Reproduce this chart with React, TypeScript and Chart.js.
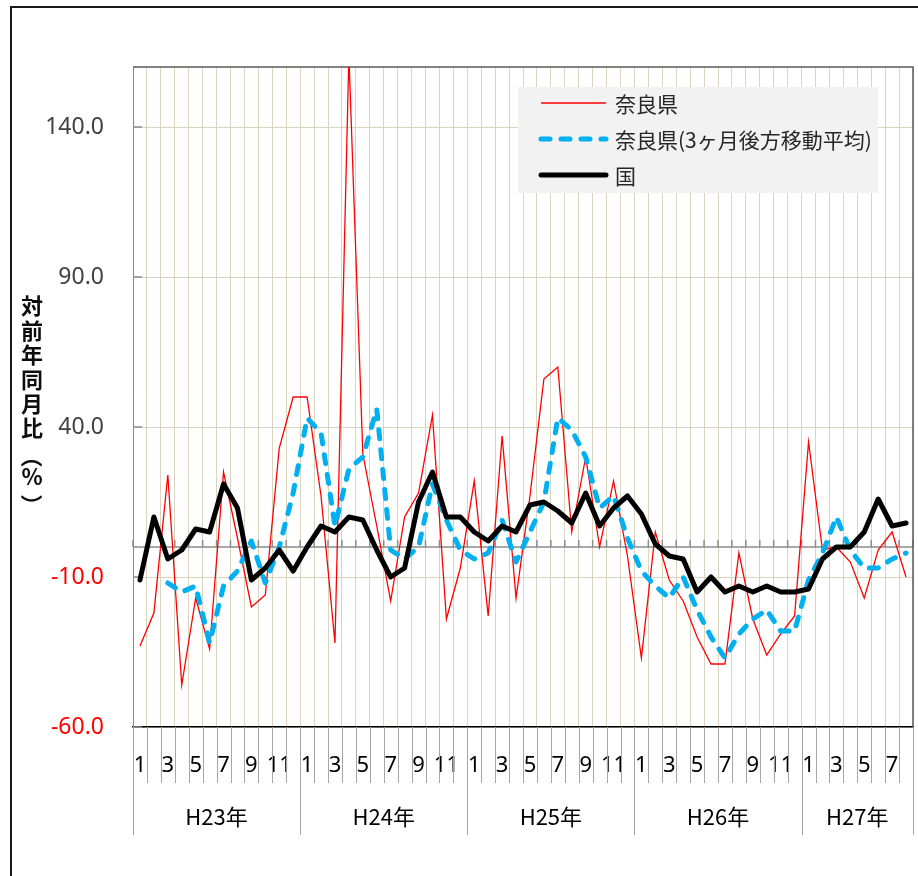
import React, { useEffect, useRef } from 'react';
import { Chart, registerables } from 'chart.js';

Chart.register(...registerables);

// ---- data ----
const YEAR_LABELS = ['H23年', 'H24年', 'H25年', 'H26年', 'H27年'];
const MONTHS_PER_YEAR = [12, 12, 12, 12, 8];
const Y_TICKS = [-60, -10, 40, 90, 140];
const Y_MIN = -60;
const Y_MAX = 160;
const SERIES_NAMES = ['奈良県', '奈良県(3ヶ月後方移動平均)', '国'];
const Y_TITLE = '対前年同月比（%）';

const NARA = [
  -33, -22, 24, -46, -17, -34, 25, 3, -20, -16, 33, 50,
  50, 17, -32, 164, 31, 7, -18, 10, 18, 44, -24, -7,
  22, -23, 37, -17, 17, 56, 60, 5, 30, 0, 22, -3,
  -37, 5, -11, -18, -30, -39, -39, -2, -24, -36, -29, -23,
  35, -1, 0, -5, -17, -1, 5, -10,
];
const NARA_MA = [
  null, null, -12, -15, -13, -32, -13, -8, 2, -12, 0, 18,
  43, 38, 7, 26, 30, 46, -1, -4, 0, 21, 9, -1,
  -4, -2, 9, -5, 5, 15, 43, 39, 30, 13, 17, 3,
  -8, -13, -17, -10, -21, -30, -37, -29, -24, -21, -28, -28,
  -11, -2, 10, -1, -7, -7, -4, -2,
];
const KUNI = [
  -11, 10, -4, -1, 6, 5, 21, 13, -11, -7, -1, -8,
  0, 7, 5, 10, 9, -1, -10, -7, 15, 25, 10, 10,
  5, 2, 7, 5, 14, 15, 12, 8, 18, 7, 13, 17,
  11, 1, -3, -4, -15, -10, -15, -13, -15, -13, -15, -15,
  -14, -4, 0, 0, 5, 16, 7, 8,
];

const MONTH_NUMBERS: number[] = MONTHS_PER_YEAR.flatMap((n) => Array.from({ length: n }, (_, m) => m + 1));
const CATEGORIES: string[] = YEAR_LABELS.flatMap((y, gi) =>
  Array.from({ length: MONTHS_PER_YEAR[gi] }, (_, m) => `${y}${m + 1}月`)
);

const TAN = '#d9d4bd';
const CJK = '"Noto Sans CJK JP", "Noto Sans", sans-serif';
const LATIN = '"Noto Sans", "DejaVu Sans", sans-serif';

const decor = {
  id: 'decor',
  beforeDraw(chart: any) {
    const ctx = chart.ctx;
    ctx.save();
    ctx.fillStyle = '#ffffff';
    ctx.fillRect(0, 0, chart.width, chart.height);
    ctx.strokeStyle = '#1a1a1a';
    ctx.lineWidth = 2;
    ctx.beginPath();
    ctx.moveTo(11, chart.height);
    ctx.lineTo(11, 7);
    ctx.lineTo(chart.width, 7);
    ctx.stroke();
    ctx.restore();
  },
  beforeDatasetsDraw(chart: any) {
    const { ctx, chartArea: a, scales } = chart;
    const n = CATEGORIES.length;
    const w = (a.right - a.left) / n;
    const y0 = scales.y.getPixelForValue(0);
    ctx.save();
    // zero line with tick marks
    ctx.strokeStyle = '#8c8c8c';
    ctx.lineWidth = 1.5;
    ctx.beginPath();
    ctx.moveTo(a.left, y0);
    ctx.lineTo(a.right, y0);
    for (let k = 0; k <= n; k++) {
      const x = a.left + k * w;
      ctx.moveTo(x, y0);
      ctx.lineTo(x, y0 - 7);
    }
    ctx.stroke();
    // inward y ticks
    ctx.beginPath();
    for (const v of Y_TICKS) {
      const y = scales.y.getPixelForValue(v);
      ctx.moveTo(a.left, y);
      ctx.lineTo(a.left + 9, y);
    }
    ctx.stroke();
    // top and right border
    ctx.strokeStyle = '#595959';
    ctx.lineWidth = 1.5;
    ctx.beginPath();
    ctx.moveTo(a.left, a.top);
    ctx.lineTo(a.right, a.top);
    ctx.lineTo(a.right, a.bottom);
    ctx.stroke();
    ctx.restore();
  },
  afterDraw(chart: any) {
    const { ctx, chartArea: a } = chart;
    const n = CATEGORIES.length;
    const w = (a.right - a.left) / n;
    ctx.save();
    // category separators below axis
    ctx.strokeStyle = '#a6a6a6';
    ctx.lineWidth = 1;
    const boundaries: number[] = [0];
    let acc = 0;
    MONTHS_PER_YEAR.forEach((c) => {
      acc += c;
      boundaries.push(acc);
    });
    ctx.beginPath();
    for (let k = 0; k <= n; k++) {
      const x = Math.round(a.left + k * w) + 0.5;
      const long = boundaries.includes(k);
      ctx.moveTo(x, a.bottom);
      ctx.lineTo(x, long ? a.bottom + 108 : a.bottom + 56);
    }
    ctx.stroke();
    // year labels
    ctx.fillStyle = '#000000';
    ctx.font = `22px ${CJK}`;
    ctx.textAlign = 'center';
    ctx.textBaseline = 'middle';
    YEAR_LABELS.forEach((lab, i) => {
      const x = a.left + ((boundaries[i] + boundaries[i + 1]) / 2) * w;
      ctx.fillText(lab, x, a.bottom + 90);
    });

    // legend
    const lx = 518, ly = 87, lw = 360, lh = 106;
    ctx.fillStyle = '#f2f2f2';
    ctx.fillRect(lx, ly, lw, lh);
    const rows = [103, 139, 175];
    chart.data.datasets.forEach((ds: any, i: number) => {
      const y = rows[i];
      ctx.save();
      ctx.strokeStyle = ds.borderColor;
      ctx.lineWidth = ds.borderWidth;
      ctx.lineCap = ds.borderCapStyle || 'butt';
      ctx.setLineDash(ds.borderDash || []);
      ctx.beginPath();
      ctx.moveTo(541, y);
      ctx.lineTo(606, y);
      ctx.stroke();
      ctx.restore();
      ctx.fillStyle = '#262626';
      ctx.font = `21px ${CJK}`;
      ctx.textAlign = 'left';
      ctx.textBaseline = 'middle';
      ctx.fillText(ds.label, 615, y + 1);
    });

    // vertical y-axis title
    ctx.fillStyle = '#0d0d0d';
    ctx.font = `bold 22px ${CJK}`;
    ctx.textAlign = 'center';
    ctx.textBaseline = 'middle';
    const chars = Array.from(Y_TITLE);
    let cy = 306;
    chars.forEach((ch) => {
      const isParen = ch === '（' || ch === '）';
      if (isParen) {
        ctx.save();
        ctx.translate(32, cy + 4);
        ctx.rotate(Math.PI / 2);
        ctx.fillText(ch, 0, 0);
        ctx.restore();
      } else {
        ctx.fillText(ch, 32, cy);
      }
      cy += 24.4;
    });
    ctx.restore();
  },
};

export default function App() {
  const ref = useRef<HTMLCanvasElement | null>(null);

  useEffect(() => {
    if (!ref.current) return;
    const chart = new Chart(ref.current, {
      type: 'line',
      data: {
        labels: CATEGORIES,
        datasets: [
          {
            label: SERIES_NAMES[0],
            data: NARA,
            borderColor: '#ff0000',
            borderWidth: 1.3,
            pointRadius: 0,
            tension: 0,
            order: 3,
          },
          {
            label: SERIES_NAMES[1],
            data: NARA_MA as any,
            borderColor: '#00b0f0',
            borderWidth: 5,
            borderDash: [9, 11],
            borderCapStyle: 'round',
            borderJoinStyle: 'round',
            pointRadius: 0,
            tension: 0,
            order: 2,
          },
          {
            label: SERIES_NAMES[2],
            data: KUNI,
            borderColor: '#000000',
            borderWidth: 5,
            borderCapStyle: 'round',
            borderJoinStyle: 'round',
            pointRadius: 0,
            tension: 0,
            order: 1,
          },
        ],
      },
      options: {
        responsive: false,
        animation: false,
        devicePixelRatio: 1,
        layout: { padding: { top: 67, right: 5, left: 0, bottom: 0 } },
        plugins: {
          legend: { display: false },
          tooltip: { enabled: false },
          title: { display: false },
        },
        scales: {
          x: {
            type: 'category',
            offset: true,
            grid: { offset: true, color: TAN, lineWidth: 1, drawTicks: false },
            border: { display: true, color: '#000000', width: 1.5 },
            ticks: {
              autoSkip: false,
              maxRotation: 0,
              minRotation: 0,
              padding: 26,
              color: '#000000',
              font: { family: LATIN, size: 22 },
              callback: (_v: any, i: number) => (MONTH_NUMBERS[i] % 2 === 1 ? String(MONTH_NUMBERS[i]) : ''),
            },
            afterFit: (scale: any) => {
              scale.height = 149;
              scale.paddingLeft = 0;
              scale.paddingRight = 0;
            },
          },
          y: {
            min: Y_MIN,
            max: Y_MAX,
            afterBuildTicks: (scale: any) => {
              scale.ticks = Y_TICKS.map((v) => ({ value: v }));
            },
            afterFit: (scale: any) => {
              scale.width = 133;
              scale.paddingTop = 0;
              scale.paddingBottom = 0;
            },
            grid: { color: TAN, lineWidth: 1, drawTicks: false },
            border: { display: true, color: '#868686', width: 1 },
            ticks: {
              padding: 29,
              font: { family: LATIN, size: 23 },
              color: (c: any) => (c.tick && c.tick.value < 0 ? '#ff0000' : '#404040'),
              callback: (v: any) => Number(v).toFixed(1),
            },
          },
        },
      },
      plugins: [decor],
    });
    return () => chart.destroy();
  }, []);

  return (
    <div style={{ position: 'absolute', left: 0, top: 0, width: 918, height: 876 }}>
      <canvas ref={ref} width={918} height={876} style={{ width: 918, height: 876, display: 'block' }} />
    </div>
  );
}
